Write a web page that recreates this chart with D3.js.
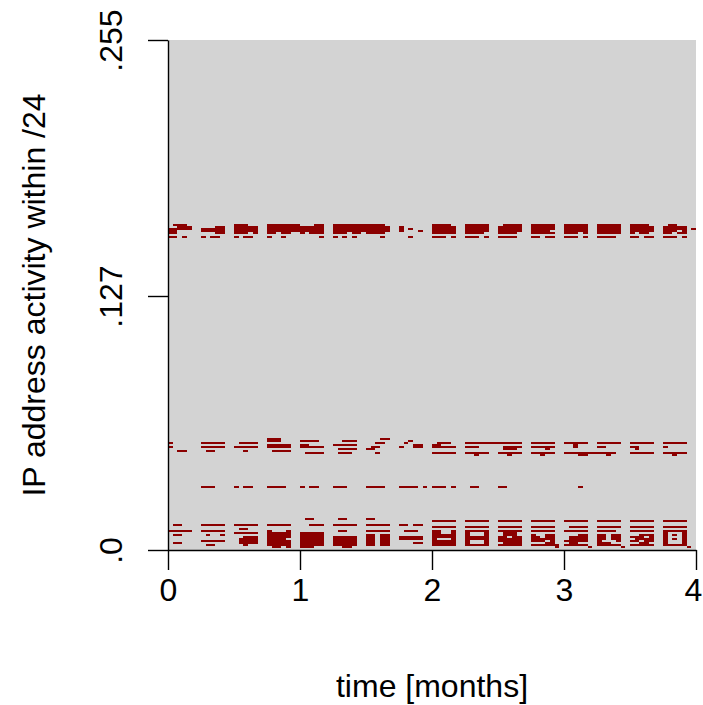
<!DOCTYPE html>
<html>
<head>
<meta charset="utf-8">
<script src="https://cdn.jsdelivr.net/npm/d3@7"></script>
<style>
  body { margin: 0; background: #ffffff; }
  text { font-family: "Liberation Sans", Arial, Helvetica, sans-serif; }
</style>
</head>
<body>
<div id="wrapper"></div>
<script>
// Tick values and labels
const monthTicks = [0, 1, 2, 3, 4];
const ipTicks = [0, 127, 255];
const ipTickLabels = [".0", ".127", ".255"];

// One time column per day, 7 days per week, 4 weeks per month (16 weeks)
const daysPerMonth = 28;

// Last octet of every address that shows up in the /24
const activeIps = [
  162, 161, 160, 159, 158, 156,
  55, 54, 53, 52, 51, 50, 49, 48, 47,
  31,
  15, 14, 12, 11, 10, 9, 8, 7, 6, 5, 4, 3, 2, 1,
];

// Activity per address, one group of 7 days per week, "#" = seen that day
const activityRows = [
  ".###... ....... ###.... ####### ...##.. ####### ####... ....... ####... #####.. .####.. #####.. #####.. #####.. ####... .##....",
  "..###.. ...##.. #####.. ####### #####.. ####### #####.. #...... #####.. #####.. #####.. #####.. #####.. #####.. #####.. #####..",
  "#####.. #####.. #####.. ####### #####.. ####### #####.. #.#.... #####.. #####.. #####.. #####.. #####.. #####.. #####.. #####.#",
  "##..... #####.. #####.. ####### #####.. ####### #####.. #...#.. #####.. #####.. #####.. ####... #####.. #####.. #####.. ###.#..",
  "##..... ...##.. ###.#.. ##.##.. #.###.. ###.##. ####... ....... #####.. ####... ####... #####.. ###.#.. #####.. #.##... ##.##..",
  "##.#... #.##... #.##... #..#... ....#.. #.#.#.. ...#... ..#.... ###.#.. ###.#.. ####... ##.##.. ###.#.. ####... ##.##.. ###.#..",

  "....... ....... ....... ###.... ....... ....... ...##.. ....... ....... ....... ....... ....... ....... ....... ....... .......",
  "....... ....... ....... ###.... ####... ..###.. ....... ..#.... ....... ....... ....... ....... ....... ....... ....... .......",
  "#...... #####.. .####.. ....... ....... ....... ..##... .#..... .###... ####### #####.. #####.. #####.. #####.. #####.. #####..",
  "....... ....... ....... #####.. ##..... #####.. ....... ...##.. ##..... ....... ....... ....... ..#.... ....... ....... .......",
  "#...... #####.. #####.. #####.. #####.. ....... .##.... #..##.. #####.. ###.... .####.. #####.. ..#.... ##..... ##..... #......",
  "....... ....... ....... ....... ....... .####.. ##..... ....... ....... ....... .###... ...#... ....... ....... .#..... .......",
  "..##... .##.... ..#.... .####.. ....... ....... ....... ....... ....... ....... ....... ....... ....... ....... ....... .......",
  "....... ....... ....... ....... .####.. .###... ..#.... ....... #####.. #####.. #####.. #####.. ####### ####... #####.. #####..",
  "....... ....... ....... ....... ....... ....... ....... ....... ....... ..#.... ..#.... ..#.... ...##.. ..#.... ....... ..#....",

  "....... ###.... #.##... ####... #.##... ###.... ####... ####.#. ###.#.. .##.... ##..... ....... ...#... ....... ....... .......",

  "....... ....... ....... ....... .##.... .##.... ##..... ....... ....... ....... ....... ....... ....... ....... ....... .......",
  "....... ....... ....... ....... ....... ....... ....... ....... #####.. #####.. #####.. #####.. #####.. #####.. #####.. #####..",
  ".##.... #####.. #####.. #####.. ..###.. #####.. #####.. ##.##.. ....... ....... ....... ....... ....... ....... ....... .......",
  "....... ....... ....... ....... ....... ....... ....... ....... #####.. #####.. #####.. #####.. .####.. #####.. #####.. #####..",
  "....... ....... .##.... ....... ....... ....... ....... ....... ....... ....... ....... ....... ....... ....... ....... .......",
  "#####.. #####.. ....... #...#.. ....... .##.... #####.. .###... ##..#.. #####.. #####.. #####.. #####.. ####... #####.. #####..",
  "....... ....... #####.. #####.. #####.. ....... ....... ....... ##..#.. #...#.. .###... ....... ....... ....... ....... #...#..",
  ".##.... .#..#.. ....... #####.. #####.. ....... ##.##.. ....... #####.. #...#.. .###... #..##.. ...##.. ##.##.. ..###.. #.#.#..",
  "....... ....... ..###.. #####.. #####.. #####.. ##.##.. #####.. #####.. #####.. ##.##.. ##.##.. .####.. ##.##.. ###.#.. #...#..",
  "....... ....... .####.. ####... #####.. #####.. ##.##.. #####.. #...#.. #####.. #####.. #####.. .####.. ##.##.. .####.. #.#.#..",
  "....... #####.. .####.. #####.. #####.. #####.. ##.##.. ....... #####.. #...#.. #####.. ###.#.. #####.. #...#.. ##.##.. #...#..",
  ".##.... ....... .####.. #####.. #####.. #####.. ##.##.. ...##.. #####.. #...#.. .####.. ...##.. .##.... ###.... ..##... #...#..",
  "....... .##.... ..#.... #####.. #####.. #####.. ##.##.. ....... #####.. #####.. #####.. ######. #####.. #####.. #####.. #####..",
  "....... ....... ....... .##.#.. ###.... ..##... ....... ....... ....... ....... ....... .....#. .....#. .....#. ....... .....#.",
];

function drawActivity() {
  // 1. Turn the row strings into one record per active day
  const cells = [];
  activeIps.forEach((ip, i) => {
    const days = activityRows[i].replace(/ /g, "");
    days.split("").forEach((c, day) => {
      if (c === "#") cells.push({ ip, day });
    });
  });

  const xAccessor = d => d.day / daysPerMonth;
  const yAccessor = d => d.ip;

  // 2. Dimensions
  const dimensions = {
    width: 703,
    height: 705,
    margin: { top: 40, right: 7, bottom: 155, left: 168 },
  };
  dimensions.boundedWidth = dimensions.width - dimensions.margin.left - dimensions.margin.right;
  dimensions.boundedHeight = dimensions.height - dimensions.margin.top - dimensions.margin.bottom;

  // 3. Canvas
  const wrapper = d3.select("#wrapper")
    .append("svg")
    .attr("width", dimensions.width)
    .attr("height", dimensions.height);

  const bounds = wrapper.append("g")
    .attr("transform", `translate(${dimensions.margin.left},${dimensions.margin.top})`);

  // 4. Scales
  const xScale = d3.scaleLinear()
    .domain([0, 4])
    .range([0, 528]);

  const yScale = d3.scaleLinear()
    .domain([0, 255])
    .range([dimensions.boundedHeight, 0]);

  // 5. Draw data
  bounds.append("rect")
    .attr("x", xScale(0))
    .attr("y", yScale(255))
    .attr("width", dimensions.boundedWidth)
    .attr("height", yScale(0) - yScale(255))
    .attr("fill", "#d3d3d3");

  bounds.append("g")
    .selectAll("rect")
    .data(cells)
    .join("rect")
      .attr("x", d => xScale(xAccessor(d)))
      .attr("width", d => xScale((d.day + 1) / daysPerMonth) - xScale(xAccessor(d)))
      .attr("y", d => yScale(yAccessor(d) + 1))
      .attr("height", d => yScale(yAccessor(d)) - yScale(yAccessor(d) + 1))
      .attr("fill", "#8b0000")
      .attr("shape-rendering", "crispEdges");

  // 6. Peripherals
  const yAxisGenerator = d3.axisLeft(yScale)
    .tickValues(ipTicks)
    .tickFormat((d, i) => ipTickLabels[i])
    .tickSize(20)
    .tickSizeOuter(0);

  const yAxis = bounds.append("g").call(yAxisGenerator);
  yAxis.selectAll("text")
    .attr("transform", "rotate(-90)")
    .attr("x", 0)
    .attr("y", -46)
    .attr("dy", 0)
    .attr("text-anchor", "middle");

  const xAxisGenerator = d3.axisBottom(xScale)
    .tickValues(monthTicks)
    .tickFormat(d3.format("d"))
    .tickSize(20)
    .tickPadding(8)
    .tickSizeOuter(0);

  const xAxis = bounds.append("g")
    .attr("transform", `translate(0,${dimensions.boundedHeight})`)
    .call(xAxisGenerator);

  // last label sits right at the window edge, pull it in a touch
  xAxis.selectAll(".tick:last-of-type text").attr("dx", "-3");

  [xAxis, yAxis].forEach(axis => {
    axis.selectAll("path, line").attr("stroke", "#000").attr("stroke-width", 1.4);
    axis.selectAll("text").attr("fill", "#000").style("font-size", "32px");
  });

  wrapper.append("text")
    .attr("transform", `translate(45,${dimensions.margin.top + dimensions.boundedHeight / 2}) rotate(-90)`)
    .attr("text-anchor", "middle")
    .style("font-size", "32px")
    .text("IP address activity within /24");

  wrapper.append("text")
    .attr("x", dimensions.margin.left + xScale(2))
    .attr("y", 697)
    .attr("text-anchor", "middle")
    .style("font-size", "32px")
    .text("time [months]");
}

drawActivity();
</script>
</body>
</html>
